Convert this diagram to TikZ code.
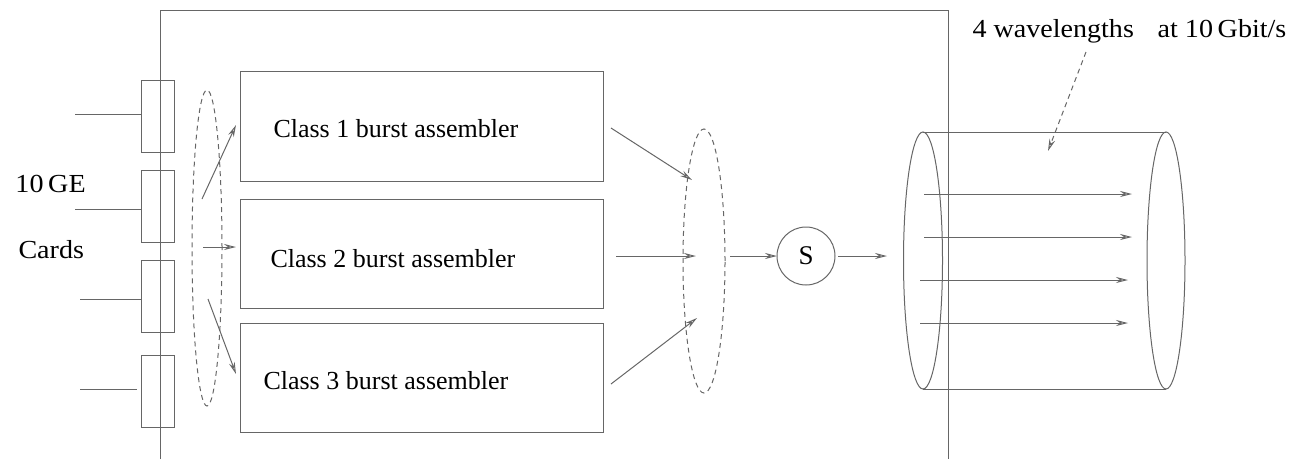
\documentclass[tikz,border=0pt]{standalone}
\usepackage{fontspec}
\setmainfont{Liberation Serif}
\usetikzlibrary{arrows.meta,shapes.geometric}
\begin{document}
\begin{tikzpicture}[x=1pt,y=-1pt,line width=1pt,
  ln/.style={draw=black!60},
  arr/.style={ln,-{Stealth[length=12pt,width=6pt,inset=4pt,open]}},
  dsh/.style={dash pattern=on 5pt off 4pt},
  card/.style={ln,rectangle,minimum width=33pt,minimum height=72pt,inner sep=0pt,outer sep=0pt},
  asm/.style={ln,rectangle,minimum width=363pt,inner sep=0pt,outer sep=0pt},
  grp/.style={ln,dsh,ellipse,inner sep=0pt,outer sep=0pt},
  lbl/.style={font=\fontsize{26}{30}\selectfont,inner sep=0pt,anchor=base west},
  fibre/.style={ln,ellipse,inner sep=0pt,outer sep=0pt,minimum height=257pt}]
\useasboundingbox (0,0) rectangle (1312,459);

% router frame (open at the bottom)
\draw[ln] (160,459) -- (160,10) -- (948,10) -- (948,459);

% 10 GE line cards
\node[card] (c1) at (157.5,116) {};
\node[card] (c2) at (157.5,206) {};
\node[card] (c3) at (157.5,296.5) {};
\node[card] (c4) at (157.5,391) {};
\coordinate (i1) at (75,114);
\coordinate (i2) at (75,209);
\coordinate (i3) at (80,299);
\coordinate (i4) at (80,389);
\draw[ln] (i1) -- (i1 -| c1.west);
\draw[ln] (i2) -- (i2 -| c2.west);
\draw[ln] (i3) -- (i3 -| c3.west);
\draw[ln] (i4) -- (137,389);
\node[lbl] (ge) at (15,192) {\scalebox{1.08}[1]{10\,GE}};
\node[lbl] (cards) at (18,258) {\scalebox{1.08}[1]{Cards}};

% classifier
\node[grp,minimum width=30pt,minimum height=316pt] (gl) at (207,248) {};

% burst assemblers
\node[asm,minimum height=110pt] (a1) at (421.5,126) {};
\node[asm,minimum height=109pt] (a2) at (421.5,253.5) {};
\node[asm,minimum height=109pt] (a3) at (421.5,377.5) {};
\node[lbl] (t1) at (273,137) {Class 1 burst assembler};
\node[lbl] (t2) at (270,267) {Class 2 burst assembler};
\node[lbl] (t3) at (263,389) {Class 3 burst assembler};

\coordinate (s1) at (202,199);
\coordinate (s2) at (203,247);
\coordinate (s3) at (208,299);
\draw[arr] (s1) -- (236,125);
\draw[arr] (s2) -- (236,247);
\draw[arr] (s3) -- (236,374);

% scheduler input
\node[grp,minimum width=42pt,minimum height=264pt] (gr) at (704,261) {};
\coordinate (o1) at (611,128);
\coordinate (o2) at (616,256);
\coordinate (o3) at (611,384);
\draw[arr] (o1) -- (692,180);
\draw[arr] (o2) -- (696,256);
\draw[arr] (o3) -- (697,318);

% scheduler
\node[ln,circle,minimum size=58pt,inner sep=0pt,outer sep=0pt,font=\fontsize{27}{30}\selectfont] (s) at (806,256) {S};
\coordinate (gx) at (730,256);
\draw[arr] (gx) -- (s.west);
\coordinate (fin) at (887,256);
\draw[arr] (s.east) ++(3,0) -- (fin);

% fibre with four wavelengths
\node[fibre,minimum width=39pt] (fl) at (923,260.5) {};
\node[fibre,minimum width=38pt] (fr) at (1166,260.5) {};
\draw[ln] (fl.north) -- (fr.north);
\draw[ln] (fl.south) -- (fr.south);
\draw[arr] (924,194) -- (1132,194);
\draw[arr] (924,237) -- (1132,237);
\draw[arr] (920,280) -- (1128,280);
\draw[arr] (920,323) -- (1128,323);

\node[lbl] (wl) at (972,37) {\scalebox{1.08}[1]{4 wavelengths\hspace{22pt}at 10\,Gbit/s}};
\coordinate (wa) at (1086,52);
\draw[arr,dsh] (wa) -- (1048,151);
\end{tikzpicture}
\end{document}
